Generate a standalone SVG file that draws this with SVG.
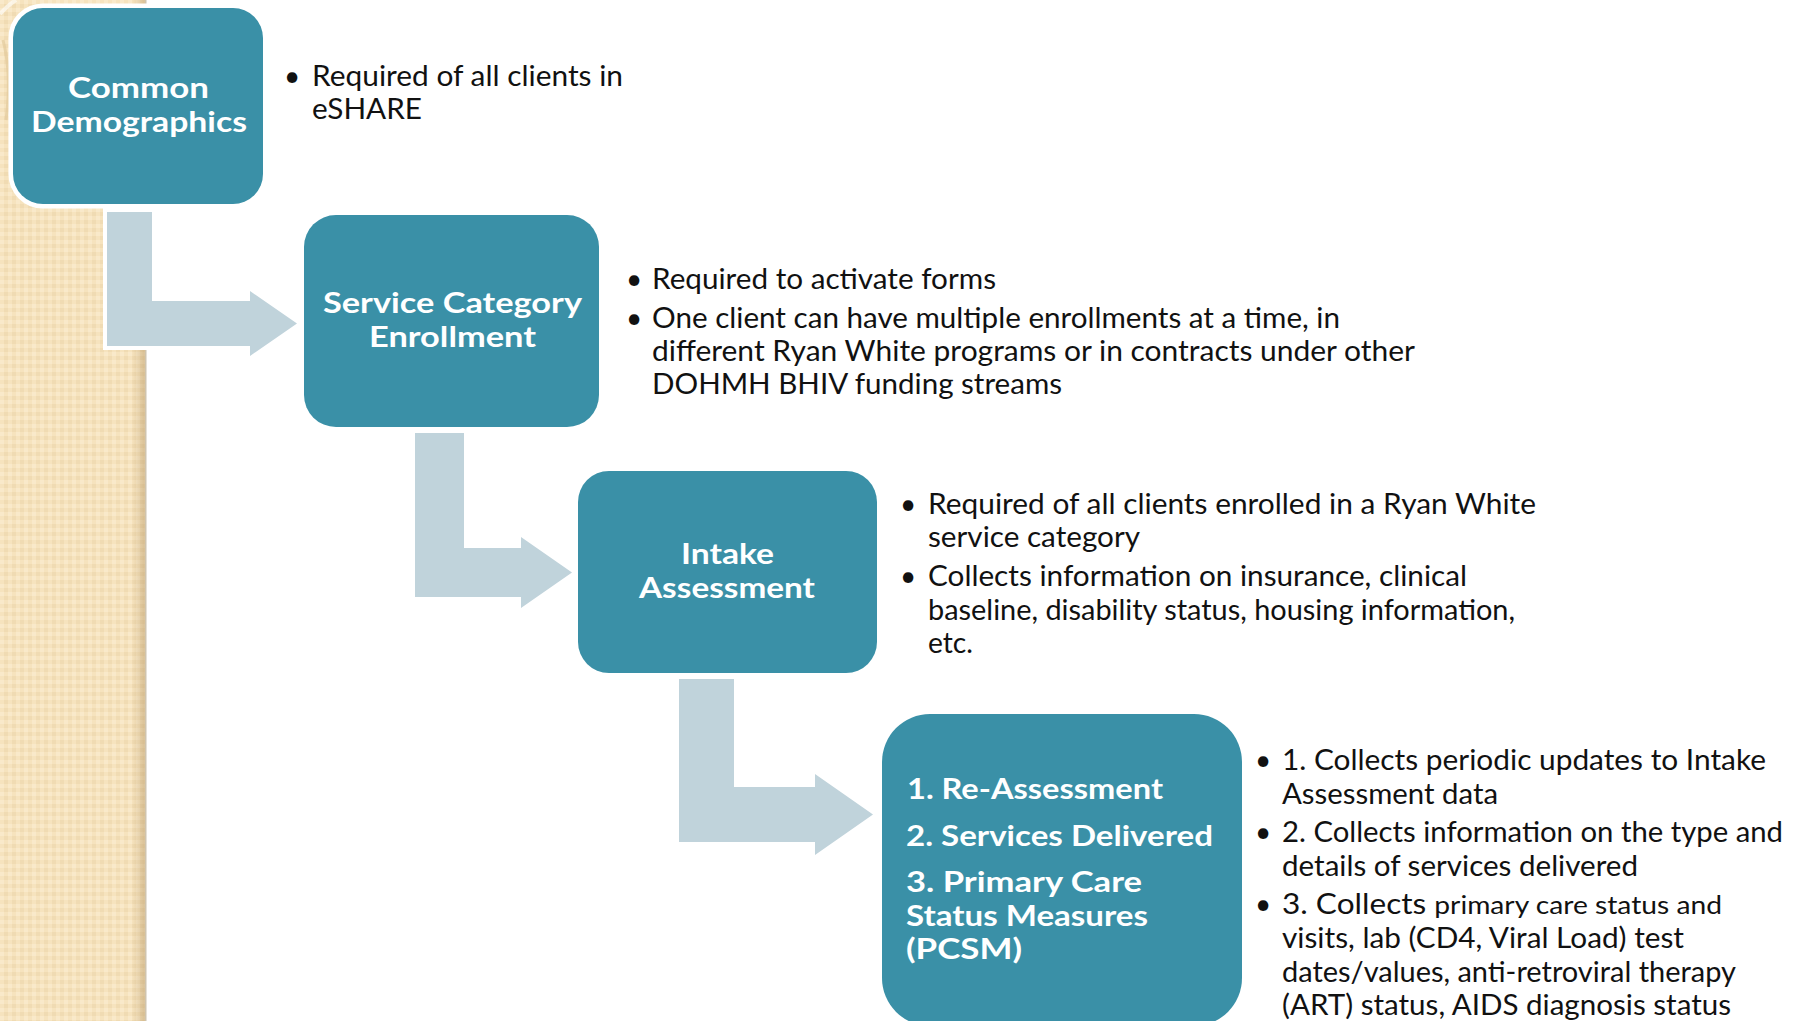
<svg xmlns="http://www.w3.org/2000/svg" width="1800" height="1021" viewBox="0 0 1800 1021">
<defs>
  <pattern id="chk" width="8" height="8" patternUnits="userSpaceOnUse">
    <rect width="8" height="8" fill="#F6E3BE"/>
    <rect width="4" height="4" fill="#F9E9CA"/>
    <rect x="4" y="4" width="4" height="4" fill="#F0DBB3"/>
  </pattern>
  <linearGradient id="edge" x1="0" x2="1" y1="0" y2="0">
    <stop offset="0" stop-color="#B08F5A" stop-opacity="0"/>
    <stop offset="1" stop-color="#B08F5A" stop-opacity="0.45"/>
  </linearGradient>
</defs>
<style>
  .box{fill:#3A90A7;stroke:#ffffff;stroke-width:9;paint-order:stroke}
  .arr{fill:#C0D3DB;stroke:#ffffff;stroke-width:8;paint-order:stroke;stroke-linejoin:miter}
  .t{font-family:Lato,'Liberation Sans',sans-serif;font-weight:700;font-size:28px;fill:#ffffff}
  .b{font-family:Lato,'Liberation Sans',sans-serif;font-size:28px;fill:#111111}
  .dot{font-family:Lato,'Liberation Sans',sans-serif;font-size:28px;fill:#111111;text-anchor:middle}
  .sm{font-size:25px}
</style>

<g id="background">
  <rect x="0" y="0" width="146" height="1021" fill="url(#chk)"/>
  <rect x="132" y="0" width="14" height="1021" fill="url(#edge)"/>
  <rect x="145" y="0" width="1.5" height="1021" fill="#CFC4AE"/>
  <path d="M0 14 Q8 5 16 0" fill="none" stroke="#ffffff" stroke-opacity="0.6" stroke-width="4"/>
  <path d="M3 40 Q12 75 6 120" fill="none" stroke="#E2CB9C" stroke-opacity="0.7" stroke-width="3"/>
</g>

<g id="connectors">
  <path class="arr" d="M107 212 H152 V301 H250 V291 L297 323.5 L250 356 V346 H107 Z"/>
  <path class="arr" d="M415 433 H464 V548 H521 V537 L572 572.5 L521 608 V597 H415 Z"/>
  <path class="arr" d="M679 679 H734 V787 H815 V774 L873 814.5 L815 855 V842 H679 Z"/>
</g>

<g id="node-common-demographics">
  <rect class="box" x="13" y="8" width="250" height="196" rx="30" ry="30"/>
  <text class="t" x="68" y="98" textLength="141" lengthAdjust="spacingAndGlyphs">Common</text>
  <text class="t" x="31" y="132" textLength="216" lengthAdjust="spacingAndGlyphs">Demographics</text>
  <text class="dot" x="292" y="86">•</text>
  <text class="b" x="312" y="86" textLength="311" lengthAdjust="spacingAndGlyphs">Required of all clients in</text>
  <text class="b" x="312" y="119" textLength="110" lengthAdjust="spacingAndGlyphs">eSHARE</text>
</g>

<g id="node-service-category-enrollment">
  <rect class="box" x="304" y="215" width="295" height="212" rx="32" ry="32"/>
  <text class="t" x="323" y="313" textLength="259" lengthAdjust="spacingAndGlyphs">Service Category</text>
  <text class="t" x="369" y="347" textLength="167" lengthAdjust="spacingAndGlyphs">Enrollment</text>
  <text class="dot" x="634" y="289">•</text>
  <text class="b" x="652" y="289" textLength="344" lengthAdjust="spacingAndGlyphs">Required to activate forms</text>
  <text class="dot" x="634" y="328">•</text>
  <text class="b" x="652" y="328" textLength="688" lengthAdjust="spacingAndGlyphs">One client can have multiple enrollments at a time, in</text>
  <text class="b" x="652" y="361" textLength="763" lengthAdjust="spacingAndGlyphs">different Ryan White programs or in contracts under other</text>
  <text class="b" x="652" y="394" textLength="410" lengthAdjust="spacingAndGlyphs">DOHMH BHIV funding streams</text>
</g>

<g id="node-intake-assessment">
  <rect class="box" x="578" y="471" width="299" height="202" rx="31" ry="31"/>
  <text class="t" x="681" y="564" textLength="93" lengthAdjust="spacingAndGlyphs">Intake</text>
  <text class="t" x="639" y="598" textLength="176" lengthAdjust="spacingAndGlyphs">Assessment</text>
  <text class="dot" x="908" y="514">•</text>
  <text class="b" x="928" y="514" textLength="608" lengthAdjust="spacingAndGlyphs">Required of all clients enrolled in a Ryan White</text>
  <text class="b" x="928" y="547" textLength="212" lengthAdjust="spacingAndGlyphs">service category</text>
  <text class="dot" x="908" y="586">•</text>
  <text class="b" x="928" y="586" textLength="539" lengthAdjust="spacingAndGlyphs">Collects information on insurance, clinical</text>
  <text class="b" x="928" y="620" textLength="587" lengthAdjust="spacingAndGlyphs">baseline, disability status, housing information,</text>
  <text class="b" x="928" y="653" textLength="45" lengthAdjust="spacingAndGlyphs">etc.</text>
</g>

<g id="node-reassessment-services-pcsm">
  <rect class="box" x="882" y="714" width="360" height="312" rx="48" ry="48"/>
  <text class="t" x="907" y="799" textLength="256" lengthAdjust="spacingAndGlyphs">1. Re-Assessment</text>
  <text class="t" x="906" y="846" textLength="307" lengthAdjust="spacingAndGlyphs">2. Services Delivered</text>
  <text class="t" x="906" y="892" textLength="236" lengthAdjust="spacingAndGlyphs">3. Primary Care</text>
  <text class="t" x="906" y="926" textLength="242" lengthAdjust="spacingAndGlyphs">Status Measures</text>
  <text class="t" x="906" y="959" textLength="116" lengthAdjust="spacingAndGlyphs">(PCSM)</text>
  <text class="dot" x="1263" y="770">•</text>
  <text class="b" x="1282" y="770" textLength="484" lengthAdjust="spacingAndGlyphs">1. Collects periodic updates to Intake</text>
  <text class="b" x="1282" y="804" textLength="216" lengthAdjust="spacingAndGlyphs">Assessment data</text>
  <text class="dot" x="1263" y="842">•</text>
  <text class="b" x="1282" y="842" textLength="501" lengthAdjust="spacingAndGlyphs">2. Collects information on the type and</text>
  <text class="b" x="1282" y="876" textLength="356" lengthAdjust="spacingAndGlyphs">details of services delivered</text>
  <text class="dot" x="1263" y="914">•</text>
  <text class="b" x="1282" y="914" textLength="440" lengthAdjust="spacingAndGlyphs">3. Collects <tspan class="sm">primary care status and</tspan></text>
  <text class="b" x="1282" y="948" textLength="402" lengthAdjust="spacingAndGlyphs">visits, lab (CD4, Viral Load) test</text>
  <text class="b" x="1282" y="982" textLength="454" lengthAdjust="spacingAndGlyphs">dates/values, anti-retroviral therapy</text>
  <text class="b" x="1282" y="1015" textLength="449" lengthAdjust="spacingAndGlyphs">(ART) status, AIDS diagnosis status</text>
</g>
</svg>
